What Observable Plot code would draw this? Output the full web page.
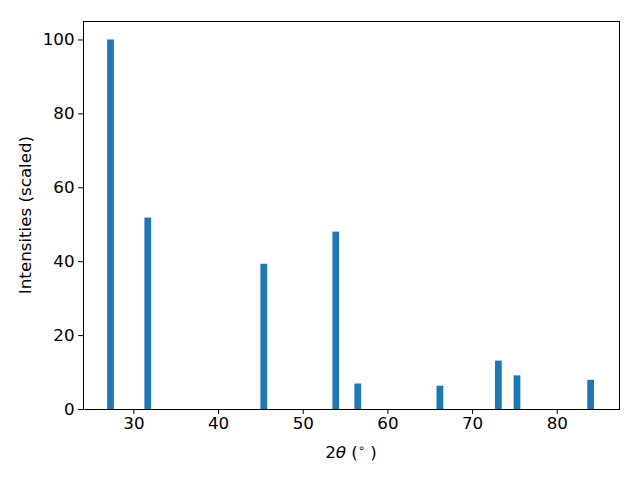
<!DOCTYPE html>
<html><head><meta charset="utf-8">
<script src="https://cdn.jsdelivr.net/npm/d3@7"></script>
<script src="https://cdn.jsdelivr.net/npm/@observablehq/plot@0.6"></script>
<style>body{margin:0;background:#fff;font-family:"DejaVu Sans";}</style>
</head><body><div id="chart"></div>
<script>
const twoTheta = [27.3, 31.7, 45.4, 53.9, 56.5, 66.2, 73.1, 75.3, 84.0];
const intensities = [100, 51.8, 39.3, 48.0, 6.9, 6.3, 13.1, 9.1, 7.9];
const xTicks = [30, 40, 50, 60, 70, 80];
const yTicks = [0, 20, 40, 60, 80, 100];
const barWidth = 0.8;
const data = twoTheta.map((x, i) => ({x, y: intensities[i]}));
const fs = 16.7;

const plot = Plot.plot({
  width: 640, height: 480,
  marginLeft: 83, marginRight: 21, marginTop: 21, marginBottom: 71,
  style: {fontFamily: "DejaVu Sans", fontSize: fs + "px", color: "black", background: "white"},
  x: {domain: [24.05, 87.35], label: null},
  y: {domain: [0, 105], label: null},
  marks: [
    Plot.rectY(data, {x1: d => d.x - barWidth / 2, x2: d => d.x + barWidth / 2, y: "y", fill: "#1f77b4", inset: 0}),
    Plot.frame({stroke: "black", strokeWidth: 1}),
    Plot.axisX({ticks: xTicks, tickSize: 4.9, tickPadding: 3, label: null, fontSize: fs}),
    Plot.axisY({ticks: yTicks, tickSize: 4.9, tickPadding: 4, label: null, fontSize: fs})
  ]
});
document.getElementById("chart").appendChild(plot);
const svg = d3.select(plot);
const xl = svg.append("text").attr("x", 351).attr("y", 458).attr("text-anchor", "middle")
  .attr("font-size", fs).attr("fill", "black");
xl.append("tspan").text("2");
xl.append("tspan").attr("font-style", "italic").text("θ");
xl.append("tspan").text(" (");
xl.append("tspan").attr("font-size", 11.5).attr("dy", -6).text("∘");
xl.append("tspan").attr("dy", 6).text(" )");
svg.append("text").attr("transform", "translate(31,215) rotate(-90)").attr("text-anchor", "middle")
  .attr("font-size", fs).attr("fill", "black").text("Intensities (scaled)");
</script></body></html>
